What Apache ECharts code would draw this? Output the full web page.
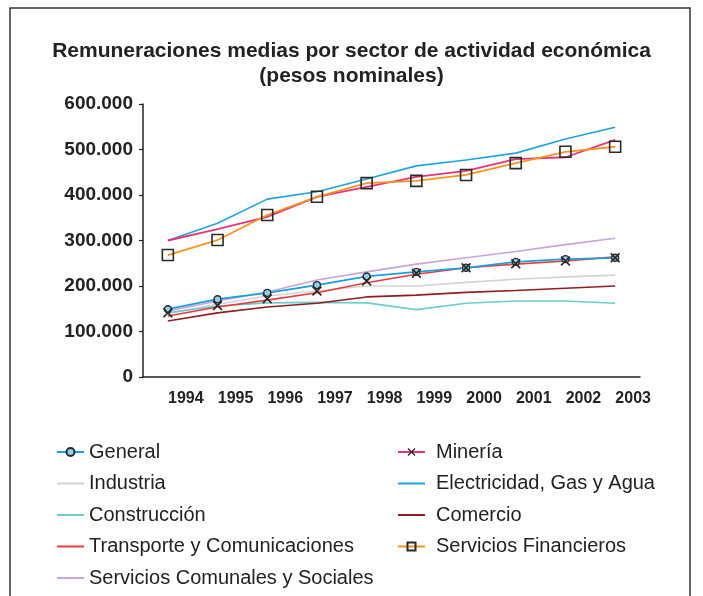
<!DOCTYPE html>
<html>
<head>
<meta charset="utf-8">
<script src="https://cdn.jsdelivr.net/npm/echarts@6/dist/echarts.min.js"></script>
<style>
  html, body { margin: 0; padding: 0; background: #fff; }
  #chart { width: 703px; height: 596px; }
</style>
</head>
<body>
<div id="chart"></div>
<script>
const years = ['1994', '1995', '1996', '1997', '1998', '1999', '2000', '2001', '2002', '2003'];

const general = [149000, 171000, 185000, 202000, 221000, 231000, 240000, 253000, 259000, 262000];
const mineria = [300000, 325000, 352000, 396000, 418000, 440000, 453000, 479000, 483000, 521000];
const industria = [140000, 160000, 178000, 189000, 200000, 200000, 208000, 215000, 220000, 224000];
const electricidad = [300000, 338000, 391000, 407000, 435000, 464000, 477000, 492000, 523000, 549000];
const construccion = [141000, 156000, 163000, 164000, 163000, 148000, 162000, 167000, 167000, 162000];
const comercio = [123000, 141000, 154000, 162000, 176000, 180000, 186000, 190000, 195000, 200000];
const transporte = [134000, 154000, 169000, 185000, 207000, 226000, 240000, 248000, 255000, 264000];
const financieros = [268000, 301000, 356000, 396000, 426000, 431000, 444000, 470000, 495000, 506000];
const comunales = [145000, 167000, 187000, 213000, 231000, 248000, 262000, 276000, 291000, 305000];

// the "x" marks sit on the lower group in the original picture
const marcasMineria = [141000, 157000, 172000, 189000, 211000, 228000, 240000, 249000, 255000, 262000];

const X_SYMBOL = 'path://M0,1.2 L1.2,0 L5,3.8 L8.8,0 L10,1.2 L6.2,5 L10,8.8 L8.8,10 L5,6.2 L1.2,10 L0,8.8 L3.8,5 Z';

const chart = echarts.init(document.getElementById('chart'));

const plain = (name, data, color) => ({
  name, type: 'line', data, symbol: 'none',
  lineStyle: { color, width: 1.6 },
  itemStyle: { color },
  z: 2
});

const hideIcon = name => ({ name, itemStyle: { opacity: 0 } });

const legendText = { fontFamily: 'Liberation Sans, Arial, sans-serif', fontSize: 20, color: '#222' };

chart.setOption({
  backgroundColor: '#fff',
  animation: false,
  title: {
    text: 'Remuneraciones medias por sector de actividad económica\n(pesos nominales)',
    left: 'center',
    top: 34,
    textStyle: {
      fontFamily: 'Liberation Sans, Arial, sans-serif',
      fontSize: 21,
      fontWeight: 'bold',
      color: '#222',
      lineHeight: 25
    }
  },
  graphic: [{
    type: 'rect',
    shape: { x: 10, y: 8, width: 680, height: 600 },
    style: { fill: 'none', stroke: '#333', lineWidth: 1.5 },
    silent: true
  }],
  legend: [{
    orient: 'vertical',
    left: 56,
    top: 442,
    height: 160,
    padding: 0,
    itemWidth: 27,
    itemHeight: 10,
    itemGap: 11.5,
    textStyle: legendText,
    data: ['General', hideIcon('Industria'), hideIcon('Construcción'),
      hideIcon('Transporte y Comunicaciones'), hideIcon('Servicios Comunales y Sociales')]
  }, {
    orient: 'vertical',
    left: 397,
    top: 442,
    height: 160,
    padding: 0,
    itemWidth: 27,
    itemHeight: 10,
    itemGap: 11.5,
    textStyle: Object.assign({ padding: [0, 0, 0, 6] }, legendText),
    data: ['Minería', hideIcon('Electricidad, Gas y Agua'), hideIcon('Comercio'), 'Servicios Financieros']
  }],
  grid: { left: 143, right: 63, top: 104, bottom: 219 },
  xAxis: {
    type: 'category',
    data: years,
    boundaryGap: true,
    axisLine: { lineStyle: { color: '#222', width: 1.5 } },
    axisTick: { length: 5, lineStyle: { color: '#222', width: 1.2 } },
    axisLabel: {
      interval: 0,
      margin: 14,
      padding: [0, 0, 0, 36],
      fontFamily: 'Liberation Sans, Arial, sans-serif',
      fontSize: 16,
      fontWeight: 'bold',
      color: '#222'
    },
    splitLine: { show: false }
  },
  yAxis: {
    type: 'value',
    min: 0,
    max: 600000,
    interval: 100000,
    axisLine: { show: true, lineStyle: { color: '#222', width: 1.5 } },
    axisTick: { show: true, length: 4, lineStyle: { color: '#222', width: 1.2 } },
    axisLabel: {
      margin: 10,
      fontFamily: 'Liberation Sans, Arial, sans-serif',
      fontSize: 19,
      fontWeight: 'bold',
      color: '#222',
      formatter: v => v === 0 ? '0' : String(v).replace(/\B(?=(\d{3})+(?!\d))/g, '.')
    },
    splitLine: { show: false }
  },
  series: [
    {
      name: 'General', type: 'line', data: general,
      symbol: 'circle', symbolSize: 7,
      lineStyle: { color: '#1aa0dc', width: 1.8 },
      itemStyle: { color: '#8fd0ef', borderColor: '#2a2a2a', borderWidth: 1.4 },
      z: 4
    },
    {
      name: 'Minería', type: 'line', data: mineria,
      symbol: X_SYMBOL, showSymbol: false,
      lineStyle: { color: '#e8337a', width: 1.8 },
      itemStyle: { color: '#2a2a2a' },
      z: 3
    },
    plain('Industria', industria, '#d3d3d3'),
    plain('Electricidad, Gas y Agua', electricidad, '#1ea3de'),
    plain('Construcción', construccion, '#6ccdca'),
    plain('Comercio', comercio, '#8e1e22'),
    plain('Transporte y Comunicaciones', transporte, '#ee3a3e'),
    {
      name: 'Servicios Financieros', type: 'line', data: financieros,
      symbol: 'rect', symbolSize: 11,
      lineStyle: { color: '#f7941d', width: 1.8 },
      itemStyle: { color: 'rgba(255,255,255,0)', borderColor: '#2a2a2a', borderWidth: 1.6 },
      z: 4
    },
    plain('Servicios Comunales y Sociales', comunales, '#c9a3d9'),
    {
      name: 'marcas Minería', type: 'line', data: marcasMineria,
      symbol: X_SYMBOL, symbolSize: 10,
      lineStyle: { opacity: 0 },
      itemStyle: { color: '#2a2a2a' },
      z: 5
    }
  ]
});
</script>
</body>
</html>
